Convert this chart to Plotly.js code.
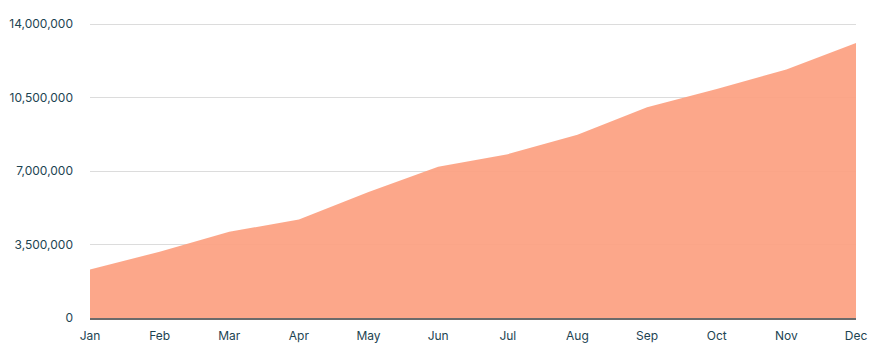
<!DOCTYPE html>
<html><head><meta charset="utf-8">
<script src="https://cdn.plot.ly/plotly-3.0.1.min.js"></script>
<style>html,body{margin:0;padding:0;background:#fff}#chart{width:878px;height:351px}</style>
</head><body><div id="chart"></div>
<script>
const months = ["Jan","Feb","Mar","Apr","May","Jun","Jul","Aug","Sep","Oct","Nov","Dec"];
const values = [2310000,3160000,4110000,4700000,6010000,7210000,7810000,8740000,10050000,10920000,11850000,13110000];
const yTicks = [0,3500000,7000000,10500000,14000000];
const yTickText = ["0","3,500,000","7,000,000","10,500,000","14,000,000"];

Plotly.newPlot("chart",[{
  x: months, y: values, type:"scatter", mode:"lines",
  fill:"tozeroy", fillcolor:"rgba(252,160,128,0.92)",
  line:{color:"rgba(252,160,128,0.92)", width:0}, hoverinfo:"x+y"
}],{
  width:878, height:351,
  margin:{l:90,r:22,t:18,b:33},
  paper_bgcolor:"#fff", plot_bgcolor:"#fff",
  showlegend:false,
  font:{family:"Inter, 'Open Sans', sans-serif", size:12, color:"#1d4452"},
  xaxis:{type:"category", range:[0,11], showgrid:false, zeroline:false,
    showline:true, linecolor:"#6b6b6b", linewidth:1.5,
    ticks:"", ticklabelstandoff:6, tickfont:{size:12,color:"#1d4452"}},
  yaxis:{range:[0,14300000], tickvals:yTicks, ticktext:yTickText,
    showgrid:true, gridcolor:"#dcdcdc", gridwidth:1, zeroline:false,
    showline:false, ticks:"", ticklabelstandoff:16, tickfont:{size:12,color:"#1d4452"}}
},{displayModeBar:false, staticPlot:true});
</script></body></html>
